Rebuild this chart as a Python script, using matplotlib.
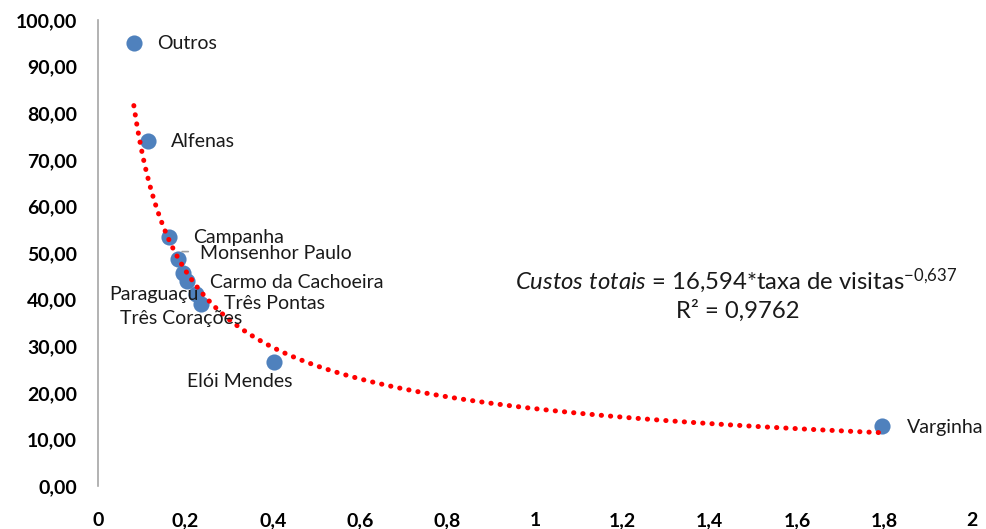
import numpy as np
import matplotlib
matplotlib.use('Agg')
import matplotlib.pyplot as plt
from matplotlib.ticker import FuncFormatter

# taxa de visitas vs custos totais
names = ['Outros', 'Alfenas', 'Campanha', 'Monsenhor Paulo', 'Três Corações',
         'Carmo da Cachoeira', 'Paraguaçu', 'Três Pontas', 'Elói Mendes', 'Varginha']
taxa = [0.082, 0.114, 0.162, 0.183, 0.195, 0.204, 0.224, 0.236, 0.403, 1.794]
custos = [95.1, 74.0, 53.4, 48.7, 45.7, 44.0, 41.2, 39.1, 26.6, 12.9]

# power trendline shown in the chart
coef_a = 16.594
coef_b = -0.637
r2 = 0.9762

# label offsets in pixels and alignment
offsets = [(23, -1), (23, 0), (24, 0), (22, 6), (-2, -45),
           (23, -2), (3, 0), (23, 0), (-34, -19), (25, -2)]
aligns = ['left', 'left', 'left', 'left', 'center',
          'left', 'right', 'left', 'center', 'left']

plt.rcParams['font.family'] = ['Lato', 'DejaVu Sans']
plt.rcParams['mathtext.fontset'] = 'custom'
plt.rcParams['mathtext.rm'] = 'Lato'
plt.rcParams['mathtext.it'] = 'Lato:italic'

fig = plt.figure(figsize=(9.86, 5.29), dpi=100)
ax = fig.add_axes([98/986, 43/529, 874/986, 466/529])

xs = np.linspace(min(taxa), max(taxa), 300)
ax.plot(xs, coef_a * xs**coef_b, color='#FF0000', lw=3.6,
        dashes=(0.05, 1.8), dash_capstyle='round', zorder=3)
ax.scatter(taxa, custos, s=135, color='#4F81BD', zorder=2, linewidths=0)

for i, name in enumerate(names):
    ax.annotate(name, (taxa[i], custos[i]), xytext=offsets[i],
                textcoords='offset pixels', ha=aligns[i], va='center',
                fontsize=14, color='#1a1a1a', zorder=4)
    if name == 'Monsenhor Paulo':
        # short leader line
        ax.annotate('', (taxa[i] + 0.003, custos[i] + 1.6),
                    xytext=(taxa[i] + 0.03, custos[i] + 1.6),
                    arrowprops=dict(arrowstyle='-', color='#A0A0A0', lw=1.2))

eq = r'$\mathit{Custos\ totais}$ = ' + ('%.3f' % coef_a).replace('.', ',') + \
     '*taxa de visitas$^{\\mathrm{' + ('%.3f' % coef_b).replace('.', '{,}') + '}}$'
ax.text(0.730, 0.44, eq, transform=ax.transAxes, ha='center', va='center',
        fontsize=17.2, color='#1a1a1a')
ax.text(0.732, 0.376, 'R² = ' + ('%.4f' % r2).replace('.', ','),
        transform=ax.transAxes, ha='center', va='center', fontsize=17.2, color='#1a1a1a')

ax.set_xlim(0, 2)
ax.set_ylim(0, 100)
ax.set_xticks(np.arange(0, 2.01, 0.2))
ax.set_yticks(np.arange(0, 101, 10))
ax.xaxis.set_major_formatter(FuncFormatter(lambda v, p: ('%g' % round(v, 1)).replace('.', ',')))
ax.yaxis.set_major_formatter(FuncFormatter(lambda v, p: ('%.2f' % v).replace('.', ',')))
for lbl in ax.get_xticklabels() + ax.get_yticklabels():
    lbl.set_fontweight('bold')
ax.tick_params(axis='both', length=0, labelsize=14, colors='#000000')
ax.tick_params(axis='x', pad=19)
ax.tick_params(axis='y', pad=15)

for s in ['top', 'right', 'bottom']:
    ax.spines[s].set_visible(False)
ax.spines['left'].set_color('#A6A6A6')
ax.spines['left'].set_linewidth(1.2)

fig.savefig('out.png', dpi=100)
